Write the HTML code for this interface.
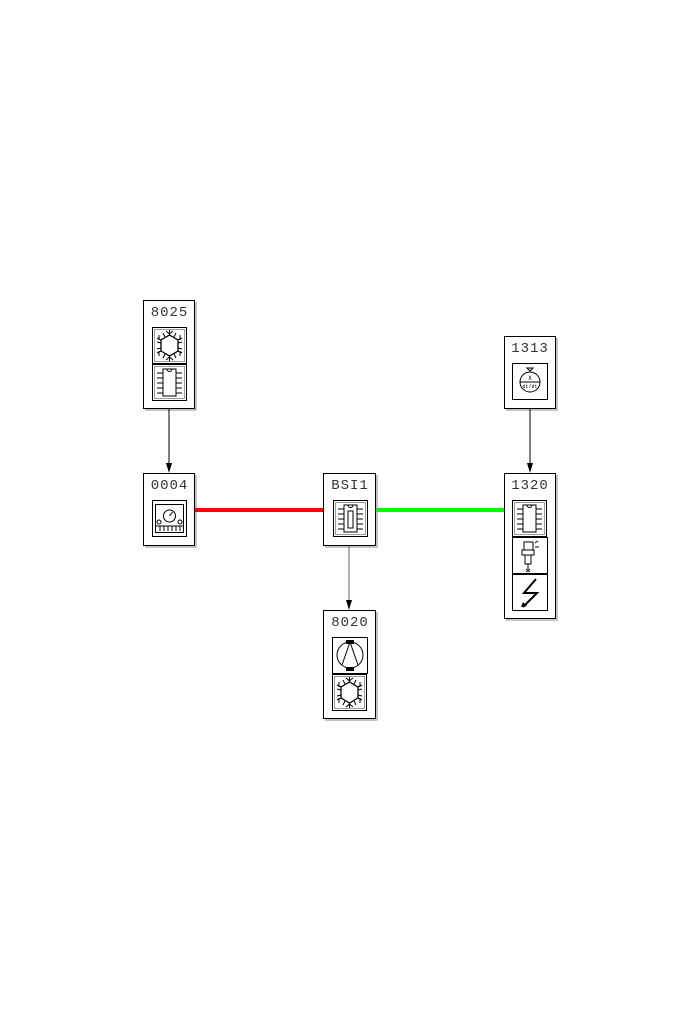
<!DOCTYPE html>
<html><head><meta charset="utf-8"><style>html,body{margin:0;padding:0;background:#fff}svg{display:block}</style></head><body>
<svg width="700" height="1020" viewBox="0 0 700 1020" xmlns="http://www.w3.org/2000/svg" font-family="Liberation Mono, monospace">
<defs>
<g id="chip"><rect x="0.5" y="0.5" width="34" height="36" fill="#fff" stroke="#000"/><rect x="2.5" y="2.5" width="30" height="32" fill="none" stroke="#999"/>
<rect x="11" y="5" width="13" height="27" fill="none" stroke="#000"/><path d="M15 5 a2.5 2.5 0 0 0 5 0" fill="none" stroke="#000"/>
<path d="M5 9h6M5 14h6M5 19h6M5 24h6M5 29h6M24 9h6M24 14h6M24 19h6M24 24h6M24 29h6" stroke="#000"/></g>
<g id="snow"><rect x="0.5" y="0.5" width="34" height="36" fill="#fff" stroke="#000"/><rect x="2.5" y="2.5" width="30" height="32" fill="none" stroke="#999"/>
<polygon points="17.5,8 26,13 26,24 17.5,29 9,24 9,13" fill="none" stroke="#000" stroke-width="1.3"/>
<path d="M17.5 3v5M17.5 29v5M26 13l4-2M9 13l-4-2M26 24l4 2M9 24l-4 2M14 4l3.5 3 3.5-3M14 33l3.5-3 3.5 3M28 8v5M7 8v5M28 29v-5M7 29v-5M11 6l2 4M24 6l-2 4M11 31l2-4M24 31l-2-4M5 15l4 1M30 15l-4 1M5 22l4-1M30 22l-4-1" stroke="#000" fill="none"/></g>
</defs>
<g fill="none" stroke="#000" stroke-width="1">
<rect x="143.5" y="300.5" width="51" height="108"/><path d="M196 302v108H145" stroke="#888"/>
<rect x="143.5" y="473.5" width="51" height="72"/><path d="M196 475v72H145" stroke="#888"/>
<rect x="323.5" y="473.5" width="52" height="72"/><path d="M377 475v72H325" stroke="#888"/>
<rect x="504.5" y="336.5" width="51" height="72"/><path d="M557 338v72H506" stroke="#888"/>
<rect x="504.5" y="473.5" width="51" height="145"/><path d="M557 475v145H506" stroke="#888"/>
<rect x="323.5" y="610.5" width="52" height="108"/><path d="M377 612v108H325" stroke="#888"/>
</g>
<line x1="195" y1="510" x2="323" y2="510" stroke="#f00" stroke-width="4"/>
<line x1="376" y1="510" x2="504" y2="510" stroke="#0f0" stroke-width="4"/>
<line x1="169" y1="409" x2="169" y2="465" stroke="#000"/><polygon points="166,463 172,463 169,473" fill="#000"/>
<line x1="530" y1="409" x2="530" y2="465" stroke="#000"/><polygon points="527,463 533,463 530,473" fill="#000"/>
<line x1="349" y1="546" x2="349" y2="602" stroke="#666"/><polygon points="346,600 352,600 349,610" fill="#000"/>
<g font-size="14" fill="#333" text-anchor="middle" letter-spacing="1">
<text x="169.5" y="316">8025</text><text x="169.5" y="489">0004</text><text x="350" y="489">BSI1</text>
<text x="530" y="352">1313</text><text x="530" y="489">1320</text><text x="350" y="626">8020</text>
</g>
<use href="#snow" x="152" y="327"/><use href="#chip" x="152" y="364"/>
<g transform="translate(152,500)"><rect x="0.5" y="0.5" width="34" height="36" fill="#fff" stroke="#000"/><rect x="3.5" y="4.5" width="28" height="28" fill="none" stroke="#000"/>
<circle cx="17.5" cy="16" r="6" fill="none" stroke="#000"/><path d="M17.5 16l3-4" stroke="#000"/><circle cx="7" cy="22" r="2" fill="none" stroke="#000"/><circle cx="28" cy="22" r="2" fill="none" stroke="#000"/>
<path d="M4 26h27M8 26v5M12 26v5M16 26v5M20 26v5M24 26v5M28 26v5" stroke="#000"/></g>
<g transform="translate(333,500)"><use href="#chip"/><rect x="15" y="11" width="5" height="17" fill="#fff" stroke="#000"/></g>
<g transform="translate(512,363)"><rect x="0.5" y="0.5" width="35" height="36" fill="#fff" stroke="#000"/><circle cx="18" cy="19" r="10" fill="none" stroke="#000"/><path d="M8 19h20" stroke="#000"/><text x="18" y="17" font-size="6" text-anchor="middle">X</text><text x="18" y="25" font-size="5" text-anchor="middle">dt/dt</text><path d="M15 5h6l-3 3z" fill="none" stroke="#000"/></g>
<use href="#chip" x="512" y="500"/>
<g transform="translate(512,537)"><rect x="0.5" y="0.5" width="35" height="36" fill="#fff" stroke="#000"/><rect x="12" y="5" width="9" height="8" fill="none" stroke="#000"/><rect x="10" y="13" width="12" height="5" fill="none" stroke="#000"/><rect x="13" y="18" width="6" height="9" fill="none" stroke="#000"/><path d="M16 27v5M14 32l4 3M18 32l-4 3M23 6l3-2M23 10l4 0" stroke="#000"/></g>
<g transform="translate(512,574)"><rect x="0.5" y="0.5" width="35" height="36" fill="#fff" stroke="#000"/><path d="M24 5L12 19h13L11 33" fill="none" stroke="#000" stroke-width="2"/><path d="M9 33l6-1-4-4z" fill="#000"/></g>
<g transform="translate(332,637)"><rect x="0.5" y="0.5" width="35" height="36" fill="#fff" stroke="#000"/><circle cx="18" cy="18" r="13" fill="none" stroke="#000"/><path d="M18 5L10 28M18 5l8 23" stroke="#000" fill="none"/><rect x="14" y="3" width="8" height="4" fill="#000"/><rect x="14" y="30" width="8" height="4" fill="#000"/></g>
<use href="#snow" x="332" y="674"/>
</svg>
</body></html>
